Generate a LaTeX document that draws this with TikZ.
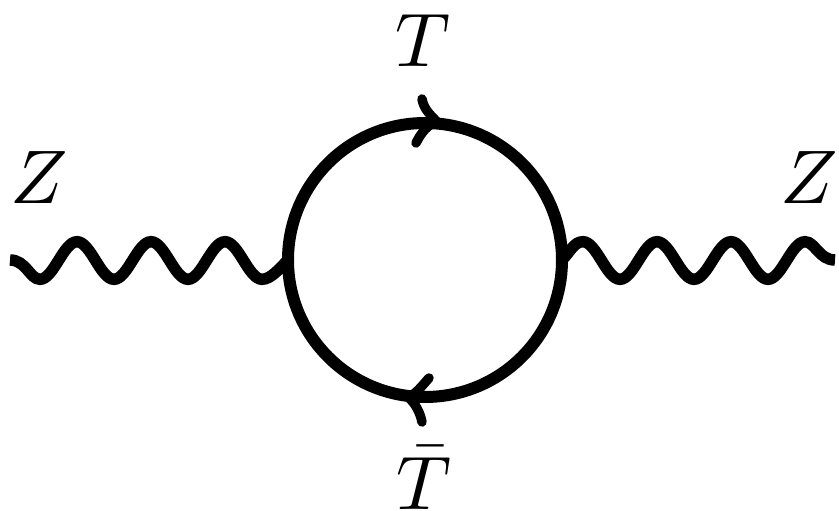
\documentclass[tikz,border=0pt]{standalone}
\tikzset{
  lab/.style={inner sep=0pt,outer sep=0pt,scale=7.6},
  loopline/.style={draw,circle,line width=12pt,minimum size=274pt,inner sep=0pt,outer sep=0pt},
  wave/.style={line width=11.5pt},
  barb/.style={line width=9.5pt,line cap=round}
}
\begin{document}
\begin{tikzpicture}[x=1pt,y=-1pt]
\useasboundingbox (0,0) rectangle (839,511);
\node[loopline] (c) at (425,260) {};
\coordinate (wl) at (10,260);
\coordinate (wr) at (835,260);
\draw[wave] (wl) .. controls +(16,0) and +(-10,0) .. (40,279.3)
  .. controls +(13.5,0) and +(-13.5,0) .. (77,241.7)
  .. controls +(13.5,0) and +(-13.5,0) .. (114,279.3)
  .. controls +(13.5,0) and +(-13.5,0) .. (151,241.7)
  .. controls +(13.5,0) and +(-13.5,0) .. (188,279.3)
  .. controls +(13.5,0) and +(-13.5,0) .. (225,241.7)
  .. controls +(13.5,0) and +(-13.5,0) .. (262,279.3)
  .. controls +(9,0) and +(-8,8) .. (c.west);
\draw[wave] (c.east) .. controls +(8,-8) and +(-9,0) .. (583,241.7)
  .. controls +(13.5,0) and +(-13.5,0) .. (620,279.3)
  .. controls +(13.5,0) and +(-13.5,0) .. (657,241.7)
  .. controls +(13.5,0) and +(-13.5,0) .. (694,279.3)
  .. controls +(13.5,0) and +(-13.5,0) .. (731,241.7)
  .. controls +(13.5,0) and +(-13.5,0) .. (768,279.3)
  .. controls +(13.5,0) and +(-13.5,0) .. (805,241.7)
  .. controls +(10,0) and +(-16,0) .. (wr);
\coordinate (t1) at (422,99);
\coordinate (t2) at (437,122);
\coordinate (t3) at (416,143);
\draw[barb] (t1) .. controls (424,110) and (431,115) .. (t2) .. controls (428,124) and (421,133) .. (t3);
\coordinate (b1) at (429,378);
\coordinate (b2) at (408,397);
\coordinate (b3) at (422,422);
\draw[barb] (b1) .. controls (421,387) and (416,394) .. (b2) .. controls (415,403) and (420,412) .. (b3);
\node[lab] (zl) at (39,178) {$Z$};
\node[lab] (zr) at (809,178) {$Z$};
\node[lab] (tt) at (423,41) {$T$};
\node[lab,anchor=base] (tb) at (424,509) {$\bar T$};
\end{tikzpicture}
\end{document}
